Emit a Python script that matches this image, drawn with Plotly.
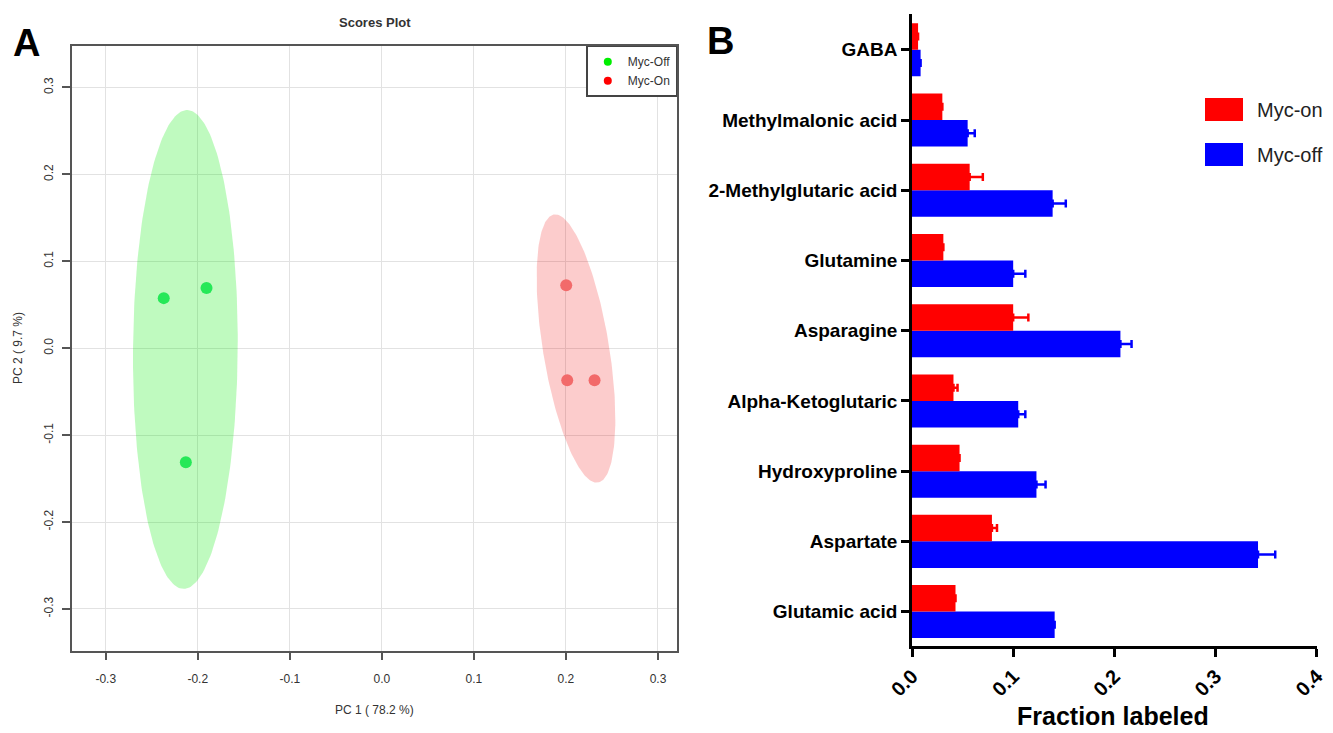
import numpy as np
import plotly.graph_objects as go

# ---------------- Panel A data (PCA scores) ----------------
myc_off_pc1 = [-0.237, -0.1905, -0.213]
myc_off_pc2 = [0.0576, 0.0693, -0.1312]
myc_on_pc1 = [0.2003, 0.2014, 0.2311]
myc_on_pc2 = [0.0724, -0.0368, -0.0368]
pca_tickvals = [-0.3, -0.2, -0.1, 0.0, 0.1, 0.2, 0.3]
pca_ticktext = ["-0.3", "-0.2", "-0.1", "0.0", "0.1", "0.2", "0.3"]

# ---------------- Panel B data (fraction labeled) ----------------
metabolites = ["GABA", "Methylmalonic acid", "2-Methylglutaric acid", "Glutamine",
               "Asparagine", "Alpha-Ketoglutaric", "Hydroxyproline", "Aspartate",
               "Glutamic acid"]
myc_on_frac = [0.006, 0.030, 0.057, 0.031, 0.100, 0.041, 0.047, 0.079, 0.043]
myc_on_err = [0, 0, 0.013, 0, 0.015, 0.004, 0, 0.005, 0]
myc_off_frac = [0.0085, 0.055, 0.139, 0.100, 0.206, 0.105, 0.123, 0.342, 0.141]
myc_off_err = [0, 0.007, 0.013, 0.012, 0.011, 0.007, 0.009, 0.017, 0]
frac_tickvals = [0.0, 0.1, 0.2, 0.3, 0.4]
frac_ticktext = ["0.0", "0.1", "0.2", "0.3", "0.4"]

W, H = 1333, 733
FONT = "Liberation Sans, Arial, Helvetica, sans-serif"


def px(x):
    return x / W


def py(y):
    return 1 - y / H


def conf_ellipse(x, y, chi2=5.991, n=240):
    """95% confidence ellipse of the group scores (as in MetaboAnalyst)."""
    pts = np.vstack([x, y])
    c = pts.mean(axis=1)
    cov = np.cov(pts)
    vals, vecs = np.linalg.eigh(cov)
    t = np.linspace(0, 2 * np.pi, n)
    circ = np.vstack([np.cos(t), np.sin(t)])
    e = vecs @ (np.sqrt(vals * chi2)[:, None] * circ) + c[:, None]
    return e[0], e[1]


fig = go.Figure()

# ellipses
ex, ey = conf_ellipse(myc_off_pc1, myc_off_pc2)
fig.add_trace(go.Scatter(x=ex, y=ey, mode="lines", fill="toself",
                         fillcolor="rgba(0,235,0,0.25)", line=dict(width=0),
                         hoverinfo="skip", showlegend=False, xaxis="x", yaxis="y"))
ex, ey = conf_ellipse(myc_on_pc1, myc_on_pc2)
fig.add_trace(go.Scatter(x=ex, y=ey, mode="lines", fill="toself",
                         fillcolor="rgba(242,0,0,0.2)", line=dict(width=0),
                         hoverinfo="skip", showlegend=False, xaxis="x", yaxis="y"))

# points
fig.add_trace(go.Scatter(x=myc_off_pc1, y=myc_off_pc2, mode="markers",
                         marker=dict(color="#26e858", size=12),
                         showlegend=False, xaxis="x", yaxis="y"))
fig.add_trace(go.Scatter(x=myc_on_pc1, y=myc_on_pc2, mode="markers",
                         marker=dict(color="#f26a6a", size=12),
                         showlegend=False, xaxis="x", yaxis="y"))

# legend entries for panel A
fig.add_trace(go.Scatter(x=[None], y=[None], mode="markers",
                         marker=dict(color="#00ee00", size=8), name="Myc-Off",
                         xaxis="x", yaxis="y"))
fig.add_trace(go.Scatter(x=[None], y=[None], mode="markers",
                         marker=dict(color="#ff0000", size=8), name="Myc-On",
                         xaxis="x", yaxis="y"))

# bars (blue first -> lower position in group)
n = len(metabolites)
fig.add_trace(go.Bar(y=metabolites, x=myc_off_frac, orientation="h", name="Myc-off",
                     marker=dict(color="#0000ff", line=dict(width=0)),
                     error_x=dict(type="data", symmetric=False, array=myc_off_err,
                                  arrayminus=[0] * n, color="#0000ff",
                                  thickness=2.5, width=4),
                     showlegend=False, xaxis="x2", yaxis="y2"))
fig.add_trace(go.Bar(y=metabolites, x=myc_on_frac, orientation="h", name="Myc-on",
                     marker=dict(color="#ff0000", line=dict(width=0)),
                     error_x=dict(type="data", symmetric=False, array=myc_on_err,
                                  arrayminus=[0] * n, color="#ff0000",
                                  thickness=2.5, width=4),
                     showlegend=False, xaxis="x2", yaxis="y2"))

axis_a = dict(showgrid=True, gridcolor="#e2e2e2", gridwidth=1, showline=True,
              mirror=True, linecolor="#555555", linewidth=1.5, ticks="outside",
              ticklen=8, tickwidth=1.5, tickcolor="#555555", zeroline=False,
              automargin=False,
              tickfont=dict(family=FONT, size=12, color="#333333"))

fig.update_layout(
    width=W, height=H,
    margin=dict(l=0, r=0, t=0, b=0, autoexpand=False),
    paper_bgcolor="white", plot_bgcolor="white",
    font=dict(family=FONT),
    barmode="group", bargap=0.245, bargroupgap=0,
    xaxis=dict(axis_a, domain=[px(71.7), px(677.3)], range=[-0.337, 0.321],
               tickvals=pca_tickvals, ticktext=pca_ticktext, anchor="y",
               ticklabelstandoff=8),
    yaxis=dict(axis_a, domain=[py(650.7), py(45.7)], range=[-0.348, 0.348],
               tickvals=pca_tickvals, ticktext=pca_ticktext, anchor="x",
               tickangle=-90, ticklabelstandoff=4),
    xaxis2=dict(domain=[px(912), px(1316.7)], range=[0, 0.4], anchor="y2",
                tickvals=frac_tickvals, ticktext=frac_ticktext, tickangle=-45,
                showline=True, linecolor="black", linewidth=2.5, ticks="outside",
                ticklen=8, tickwidth=2.5, tickcolor="black", showgrid=False,
                zeroline=False, automargin=False,
                tickfont=dict(family=FONT, size=20, color="black", weight="bold")),
    yaxis2=dict(domain=[py(646), py(14)], anchor="x2", type="category",
                categoryorder="array", categoryarray=metabolites[::-1],
                range=[-0.49, 8.51], showline=True, linecolor="black",
                linewidth=2.5, ticks="outside", ticklen=8, tickwidth=2.5,
                tickcolor="black", showgrid=False, zeroline=False, automargin=False,
                tickfont=dict(family=FONT, size=19, color="black", weight="bold")),
    legend=dict(x=px(677.3), xanchor="right", y=py(45.7), yanchor="top",
                bordercolor="#444444", borderwidth=1.5, bgcolor="white",
                font=dict(family=FONT, size=12, color="#333333"),
                itemwidth=30, tracegroupgap=0),
)

ann = [
    dict(text="<b>A</b>", x=px(26), y=py(43), size=38, color="black"),
    dict(text="<b>B</b>", x=px(720), y=py(41), size=38, color="black"),
    dict(text="<b>Scores Plot</b>", x=px(375), y=py(22), size=13, color="#333333"),
    dict(text="PC 1 ( 78.2 %)", x=px(375), y=py(710), size=12, color="#333333"),
    dict(text="<b>Fraction labeled</b>", x=px(1113), y=py(716), size=25, color="black"),
]
for a in ann:
    fig.add_annotation(text=a["text"], x=a["x"], y=a["y"], xref="paper", yref="paper",
                       showarrow=False, xanchor="center", yanchor="middle",
                       font=dict(family=FONT, size=a["size"], color=a["color"]))
fig.add_annotation(text="PC 2 ( 9.7 %)", x=px(18), y=py(348), xref="paper", yref="paper",
                   showarrow=False, textangle=-90, xanchor="center", yanchor="middle",
                   font=dict(family=FONT, size=12, color="#333333"))

# Panel B legend (swatches + labels)
legend_b = [("Myc-on", "#ff0000", 98, 121), ("Myc-off", "#0000ff", 143, 166)]
for label, col, y0, y1 in legend_b:
    fig.add_shape(type="rect", xref="paper", yref="paper", x0=px(1205), x1=px(1243),
                  y0=py(y1), y1=py(y0), fillcolor=col, line=dict(width=0))
    fig.add_annotation(text=label, x=px(1255), y=py((y0 + y1) / 2), xref="paper",
                       yref="paper", showarrow=False, xanchor="left", yanchor="middle",
                       font=dict(family=FONT, size=20, color="#222222"))

fig.write_html("out.html",
               config={"displayModeBar": False},
               post_script="document.body.style.margin='0';"
                           "document.body.style.overflow='hidden';")
